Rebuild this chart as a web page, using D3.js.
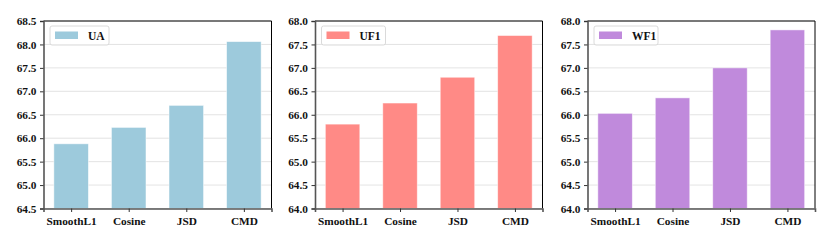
<!DOCTYPE html>
<html>
<head>
<meta charset="utf-8">
<script src="https://cdn.jsdelivr.net/npm/d3@7"></script>
<style>
  body { margin: 0; background: #fff; }
  svg text { font-family: "Liberation Serif", "DejaVu Serif", serif; font-weight: bold; }
</style>
</head>
<body>
<div id="chart"></div>
<script>
const categories = ["SmoothL1", "Cosine", "JSD", "CMD"];
const uaValues  = [65.88, 66.23, 66.70, 68.06];
const uf1Values = [65.80, 66.25, 66.80, 67.69];
const wf1Values = [66.03, 66.36, 67.00, 67.81];

const panels = [
  { name: "UA",  values: uaValues,  color: "#9DCADC", domain: [64.5, 68.5], left: 43.5,  right: 271.5 },
  { name: "UF1", values: uf1Values, color: "#FF8A86", domain: [64, 68],     left: 315,   right: 542.5 },
  { name: "WF1", values: wf1Values, color: "#C08ADC", domain: [64, 68],     left: 587.5, right: 815 }
];

const W = 831, H = 243, plotTop = 21, plotBottom = 208.5;

const svg = d3.select("#chart").append("svg")
  .attr("width", W)
  .attr("height", H);

panels.forEach(p => {
  const g = svg.append("g");

  // x: matplotlib-like linear positions, bar width 0.6, 5% margins
  const x = d3.scaleLinear()
    .domain([-0.48, 3.48])
    .range([p.left, p.right]);

  const y = d3.scaleLinear()
    .domain(p.domain)
    .range([plotBottom, plotTop]);

  const ticks = d3.range(p.domain[0], p.domain[1] + 0.001, 0.5);

  // grid
  g.selectAll("line.grid")
    .data(ticks)
    .join("line")
    .attr("class", "grid")
    .attr("x1", p.left).attr("x2", p.right)
    .attr("y1", d => y(d)).attr("y2", d => y(d))
    .attr("stroke", "#dcdcdc")
    .attr("stroke-width", 0.8);

  // bars
  g.selectAll("rect.bar")
    .data(p.values)
    .join("rect")
    .attr("class", "bar")
    .attr("x", (d, i) => x(i - 0.3))
    .attr("width", x(0.3) - x(-0.3))
    .attr("y", d => y(d))
    .attr("height", d => y(p.domain[0]) - y(d))
    .attr("fill", p.color)
    .attr("stroke", "#fff")
    .attr("stroke-opacity", 0.6)
    .attr("stroke-width", 0.8);

  // top and right spines
  g.append("line")
    .attr("x1", p.left).attr("x2", p.right)
    .attr("y1", plotTop).attr("y2", plotTop)
    .attr("stroke", "#000").attr("stroke-width", 1);
  g.append("line")
    .attr("x1", p.right).attr("x2", p.right)
    .attr("y1", plotTop).attr("y2", plotBottom)
    .attr("stroke", "#000").attr("stroke-width", 1);

  // y axis
  const yAxis = g.append("g")
    .attr("transform", `translate(${p.left},0)`)
    .call(d3.axisLeft(y).tickValues(ticks).tickFormat(d3.format(".1f")).tickSize(3.5).tickPadding(3.5));
  yAxis.select(".domain").attr("stroke", "#555").attr("stroke-width", 1.6);
  yAxis.selectAll(".tick line").attr("stroke", "#333");
  yAxis.selectAll("text").attr("font-size", 11.3).attr("fill", "#111")
    .style("font-family", "'Liberation Serif', serif");

  // x axis
  const xAxis = g.append("g")
    .attr("transform", `translate(0,${plotBottom})`)
    .call(d3.axisBottom(x).tickValues(d3.range(categories.length))
      .tickFormat(i => categories[i]).tickSize(3.5).tickPadding(4.5));
  xAxis.select(".domain").attr("stroke", "#555").attr("stroke-width", 1.6);
  xAxis.selectAll(".tick line").attr("stroke", "#333");
  xAxis.selectAll("text").attr("font-size", 11.3).attr("fill", "#111")
    .style("font-family", "'Liberation Serif', serif");

  // legend
  const lx = p.left + 6.5, ly = 26;
  const lw = p.name === "UA" ? 59 : 64;
  g.append("rect")
    .attr("x", lx).attr("y", ly)
    .attr("width", lw).attr("height", 19)
    .attr("rx", 2)
    .attr("fill", "#fff").attr("fill-opacity", 0.8)
    .attr("stroke", "#d0d0d0").attr("stroke-width", 0.8);
  g.append("rect")
    .attr("x", lx + 5).attr("y", ly + 5.5)
    .attr("width", 23).attr("height", 7.5)
    .attr("fill", p.color);
  g.append("text")
    .attr("x", lx + 38).attr("y", ly + 13.5)
    .attr("font-size", 11.5)
    .attr("fill", "#111")
    .text(p.name);
});
</script>
</body>
</html>
